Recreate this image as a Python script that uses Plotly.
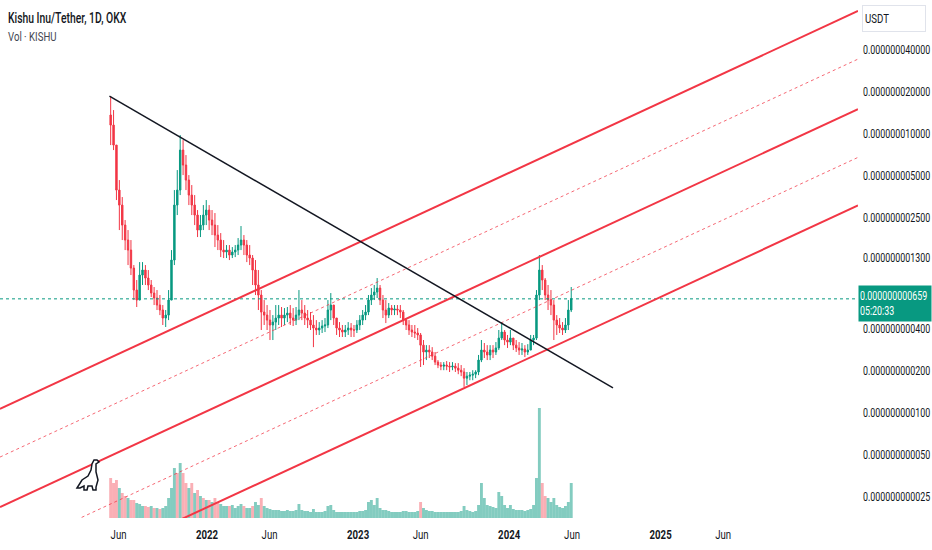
import plotly.graph_objects as go
import pandas as pd

# ---- data (prices in units of 1e-12 USDT) ----
week_start = "2021-05-13"          # weekly candles (mid-week dates)
first_open_e12 = 13700
close_e12 = [11600, 8340, 3968, 3098, 2227, 1739, 1474, 1095, 762, 646,
             976, 1060, 929, 828, 725, 668, 595, 548, 480, 504,
             646, 1250, 3098, 3968, 7679, 5996, 4680, 3654, 3098, 2627,
             2051, 2227, 2627, 2853, 2419, 2227, 1888, 1739, 1474, 1427,
             1474, 1358, 1427, 1474, 1601, 1739, 1601, 1358, 1292, 1060,
             828, 702, 530, 504, 464, 428, 449, 480, 504, 480,
             504, 521, 480, 464, 504, 548, 521, 480, 464, 428,
             407, 394, 407, 421, 428, 548, 595, 480, 407, 394,
             381, 394, 407, 394, 394, 428, 464, 504, 530, 646,
             702, 737, 787, 646, 548, 504, 566, 548, 557, 548,
             530, 464, 428, 394, 381, 375, 363, 307, 274, 283,
             274, 256, 232, 221, 217, 221, 217, 214, 217, 210,
             203, 197, 178, 184, 187, 190, 197, 240, 283, 274,
             261, 283, 274, 293, 345, 381, 334, 323, 345, 307,
             293, 283, 288, 274, 283, 334, 345, 702, 1060, 899,
             702, 646, 595, 464, 428, 407, 394, 428, 548, 659]
high_e12 = [18700, 14860, 8069, 4680, 3536, 2419, 2051, 1739, 1151, 899,
            1209, 1209, 1151, 1060, 899, 801, 762, 702, 595, 548,
            762, 1474, 3968, 5520, 9836, 9057, 7071, 5083, 4310, 3654,
            2853, 2627, 3098, 3365, 3098, 2853, 2715, 2227, 1952, 1739,
            1601, 1601, 1549, 1601, 1797, 2191, 1888, 1739, 1601, 1358,
            1250, 1060, 762, 646, 595, 548, 504, 595, 595, 576,
            566, 576, 595, 566, 576, 762, 646, 595, 548, 530,
            504, 464, 449, 464, 480, 646, 725, 595, 464, 449,
            428, 428, 449, 442, 428, 464, 504, 548, 595, 702,
            787, 828, 929, 828, 702, 646, 615, 595, 595, 595,
            595, 548, 480, 464, 428, 428, 407, 375, 334, 307,
            307, 297, 274, 240, 232, 232, 236, 232, 232, 228,
            228, 221, 210, 197, 197, 203, 203, 261, 334, 318,
            307, 307, 307, 323, 394, 449, 394, 363, 394, 345,
            334, 323, 318, 307, 312, 363, 363, 762, 1358, 1151,
            929, 828, 762, 646, 504, 480, 449, 480, 646, 801]
low_e12 = [8340, 7679, 3365, 2051, 1739, 1474, 1151, 976, 646, 576,
           762, 828, 828, 762, 679, 595, 548, 504, 428, 414,
           464, 646, 1151, 2627, 3654, 5083, 3968, 3098, 2627, 2227,
           1827, 1827, 2051, 2227, 2051, 1888, 1549, 1474, 1313, 1292,
           1292, 1250, 1292, 1313, 1358, 1474, 1358, 1209, 1151, 828,
           702, 548, 394, 428, 394, 334, 334, 394, 428, 414,
           428, 449, 428, 421, 428, 464, 464, 428, 407, 394,
           297, 363, 363, 375, 381, 407, 464, 428, 363, 351,
           351, 351, 363, 351, 351, 375, 394, 428, 464, 504,
           595, 646, 668, 595, 480, 442, 480, 504, 504, 504,
           480, 428, 394, 363, 351, 345, 334, 214, 221, 240,
           248, 240, 221, 210, 203, 203, 203, 197, 203, 197,
           190, 184, 154, 159, 172, 172, 178, 187, 232, 248,
           240, 240, 248, 261, 283, 334, 307, 293, 307, 283,
           274, 261, 261, 252, 261, 283, 307, 334, 646, 762,
           646, 548, 504, 334, 363, 375, 363, 375, 394, 530]
volume = [40, 35, 38, 30, 25, 22, 20, 18, 18, 15,
          14, 12, 12, 11, 12, 10, 10, 9, 10, 12,
          20, 30, 50, 45, 55, 45, 35, 30, 35, 25,
          28, 22, 20, 18, 18, 16, 20, 16, 14, 12,
          12, 12, 13, 10, 12, 14, 12, 10, 10, 12,
          16, 13, 20, 12, 10, 9, 8, 8, 8, 7,
          7, 8, 7, 7, 8, 14, 8, 7, 7, 6,
          9, 6, 6, 6, 7, 12, 13, 8, 6, 6,
          6, 6, 6, 6, 6, 6, 7, 7, 8, 16,
          18, 13, 20, 10, 8, 8, 7, 6, 6, 6,
          6, 7, 7, 6, 6, 6, 7, 16, 10, 8,
          7, 7, 6, 6, 6, 6, 6, 6, 6, 6,
          6, 7, 12, 8, 7, 6, 7, 13, 35, 20,
          13, 12, 11, 10, 26, 22, 13, 10, 13, 9,
          8, 8, 8, 7, 8, 9, 13, 40, 110, 35,
          22, 20, 16, 20, 13, 11, 10, 12, 16, 35]
volume_up = [0, 0, 0, 1, 0, 0, 1, 0, 0, 1,
             1, 1, 0, 0, 1, 0, 1, 0, 1, 1,
             1, 1, 1, 0, 1, 0, 0, 1, 0, 1,
             0, 1, 0, 1, 0, 1, 0, 0, 1, 1,
             1, 0, 1, 1, 1, 1, 0, 1, 1, 0,
             1, 1, 0, 1, 1, 1, 1, 1, 1, 1,
             1, 1, 1, 1, 1, 1, 1, 1, 1, 1,
             1, 1, 1, 1, 1, 1, 1, 1, 1, 1,
             1, 1, 1, 1, 1, 1, 1, 1, 1, 1,
             1, 1, 1, 1, 1, 1, 1, 1, 1, 1,
             1, 1, 1, 1, 1, 1, 1, 0, 1, 1,
             1, 1, 1, 1, 1, 1, 1, 1, 1, 1,
             1, 1, 1, 1, 1, 1, 1, 1, 1, 1,
             1, 1, 1, 1, 1, 1, 1, 1, 1, 1,
             1, 1, 1, 1, 1, 1, 1, 1, 1, 0,
             0, 1, 1, 1, 1, 1, 1, 1, 1, 1]

last_price_e12 = 659
last_price_text = "0.000000000659"
countdown_text = "05:20:33"

x_range = ["2020-08-18 14:00", "2026-04-23"]
# channel lines span the whole visible range: (price e-12 at left edge, at right edge)
channel_dates = x_range
channel_solid = [[107.2, 76250], [21.2, 15080], [4.33, 3078]]
channel_dotted = [[48.4, 34470], [9.57, 6807]]
trend_dates = ["2021-05-10", "2024-09-08"]
trend_prices = [18690, 151.8]

ytick_vals_e12 = [40000, 20000, 10000, 5000, 2500, 1300, 400, 200, 100, 50, 25]
ytick_text = ["0.000000040000", "0.000000020000", "0.000000010000", "0.000000005000",
              "0.000000002500", "0.000000001300", "0.000000000400", "0.000000000200",
              "0.000000000100", "0.000000000050", "0.000000000025"]
xtick_vals = ["2021-06-01", "2022-01-01", "2022-06-01", "2023-01-01", "2023-06-01",
              "2024-01-01", "2024-06-01", "2025-01-01", "2025-06-01"]
xtick_text = ["Jun", "<b>2022</b>", "Jun", "<b>2023</b>", "Jun", "<b>2024</b>", "Jun",
              "<b>2025</b>", "Jun"]

# ---- build ----
S = 1e-12
dates = pd.date_range(week_start, periods=len(close_e12), freq="7D")
opens = [first_open_e12] + close_e12[:-1]
o = [v * S for v in opens]
c = [v * S for v in close_e12]
h = [max(a, b, x) * S for a, b, x in zip(high_e12, opens, close_e12)]
l = [min(a, b, x) * S for a, b, x in zip(low_e12, opens, close_e12)]

UP = "#089981"
DN = "#F23645"
vol_colors = ["rgba(8,153,129,0.5)" if f else "rgba(242,54,69,0.4)" for f in volume_up]

fig = go.Figure()
fig.add_trace(go.Bar(x=dates, y=volume, marker_color=vol_colors, marker_line_width=0,
                     width=7 * 24 * 3600 * 1000, yaxis="y", showlegend=False))
fig.add_trace(go.Scatter(x=x_range, y=[last_price_e12 * S] * 2, mode="lines",
                         line=dict(color=UP, width=1, dash="dot"), yaxis="y2",
                         showlegend=False))
for p in channel_dotted:
    fig.add_trace(go.Scatter(x=channel_dates, y=[v * S for v in p], mode="lines",
                             line=dict(color="rgba(242,54,69,0.75)", width=1, dash="dot"),
                             yaxis="y2", showlegend=False))
for p in channel_solid:
    fig.add_trace(go.Scatter(x=channel_dates, y=[v * S for v in p], mode="lines",
                             line=dict(color=DN, width=2), yaxis="y2", showlegend=False))
fig.add_trace(go.Scatter(x=trend_dates, y=[v * S for v in trend_prices], mode="lines",
                         line=dict(color="#131722", width=1.5), yaxis="y2", showlegend=False))
fig.add_trace(go.Candlestick(x=dates, open=o, high=h, low=l, close=c, yaxis="y2",
                             increasing=dict(line=dict(color=UP, width=1), fillcolor=UP),
                             decreasing=dict(line=dict(color=DN, width=1), fillcolor=DN),
                             showlegend=False))

# TradingView logo outline (pixel outline converted to paper coordinates)
PW, PH = 858.0, 518.0
logo_px = [(77, 488), (82, 480), (88, 476), (91, 470), (92, 464), (94, 460), (97, 460),
           (99, 462), (96, 464), (96, 472), (98, 480), (96, 487), (96, 490), (93, 490),
           (92, 486), (88, 486), (87, 490), (84, 490), (84, 486), (80, 488)]
logo_path = "M " + " L ".join(f"{x / PW:.5f},{1 - y / PH:.5f}" for x, y in logo_px) + " Z"

FONT = "Roboto, Liberation Sans, sans-serif"
fig.update_layout(
    width=932, height=550,
    margin=dict(l=0, r=74, t=0, b=32, autoexpand=False),
    paper_bgcolor="white", plot_bgcolor="white",
    font=dict(family=FONT, size=12, color="#131722"),
    showlegend=False, hovermode=False,
    xaxis=dict(type="date", range=x_range, rangeslider=dict(visible=False),
               showgrid=False, zeroline=False, showline=False, automargin=False,
               tickvals=xtick_vals, ticktext=xtick_text, ticks="", ticklabelstandoff=7,
               tickfont=dict(family=FONT, size=13, color="#131722")),
    yaxis=dict(range=[0, 518], visible=False, showgrid=False, automargin=False),
    yaxis2=dict(type="log", overlaying="y", side="right", automargin=False,
                range=[-10.752, -7.039], showgrid=False, zeroline=False, showline=False,
                tickvals=[v * S for v in ytick_vals_e12], ticktext=ytick_text, ticks="",
                ticklabelstandoff=4,
                tickfont=dict(family=FONT, size=12, color="#131722")),
    shapes=[dict(type="path", xref="paper", yref="paper", path=logo_path,
                 line=dict(color="#131722", width=1.5), fillcolor="white", layer="above")],
    annotations=[
        dict(text="Kishu Inu/Tether, 1D, OKX", xref="paper", yref="paper",
             x=6 / 858, y=1 - 18 / 518, xanchor="left", yanchor="middle", align="left",
             showarrow=False, font=dict(family=FONT, size=14, color="#131722", weight=500)),
        dict(text="Vol · KISHU", xref="paper", yref="paper",
             x=6 / 858, y=1 - 37 / 518, xanchor="left", yanchor="middle", align="left",
             showarrow=False, font=dict(family=FONT, size=13, color="#434651")),
        dict(text="USDT", xref="paper", yref="paper", x=862 / 858, y=1 - 18.5 / 518,
             xanchor="left", yanchor="middle", showarrow=False, align="left",
             width=58, height=21, borderpad=2, bordercolor="#e0e3eb", borderwidth=1,
             bgcolor="white", font=dict(family=FONT, size=13, color="#131722")),
        dict(text=last_price_text + "<br>" + countdown_text, xref="paper", yref="paper",
             x=1.0, y=1 - 303.5 / 518, xanchor="left", yanchor="middle",
             showarrow=False, align="left", width=70, height=33, borderpad=1,
             bgcolor=UP, font=dict(family=FONT, size=12, color="white")),
    ],
)

# page without body margin; condensed look of the reference's text
page_js = """
(function(){
  document.documentElement.style.margin = '0';
  document.body.style.margin = '0';
  document.body.style.padding = '0';
  document.body.style.overflow = 'hidden';
  var gd = document.getElementById('{plot_id}');
  function sq(el){
    el.removeAttribute('textLength');
    el.removeAttribute('lengthAdjust');
    var w = el.getComputedTextLength();
    if (w > 0) {
      el.setAttribute('textLength', (w * 0.74).toFixed(1));
      el.setAttribute('lengthAdjust', 'spacingAndGlyphs');
    }
  }
  function squeeze(){
    gd.querySelectorAll('text').forEach(function(t){
      var lines = t.querySelectorAll('tspan.line');
      if (lines.length) { lines.forEach(sq); } else { sq(t); }
    });
  }
  squeeze();
  [30, 150, 400, 900].forEach(function(ms){ setTimeout(squeeze, ms); });
  gd.on('plotly_afterplot', squeeze);
})();
"""
fig.write_html("out.html", post_script=page_js,
               config={"displayModeBar": False, "staticPlot": True})
